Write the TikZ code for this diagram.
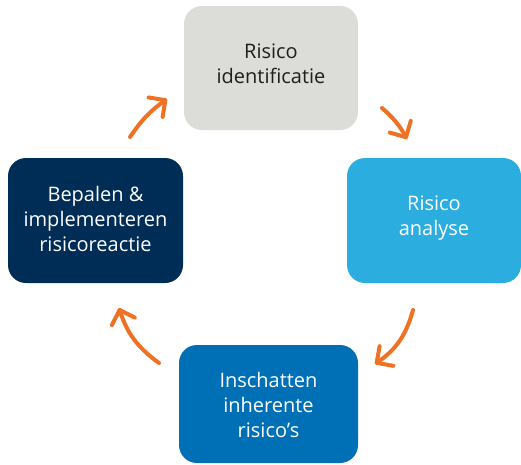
\documentclass[tikz,border=0pt]{standalone}
\usepackage{fontspec}
\setmainfont{Open Sans}
\usetikzlibrary{arrows.meta}
\definecolor{boxgray}{HTML}{DCDCD8}
\definecolor{boxsky}{HTML}{2CADE0}
\definecolor{boxblue}{HTML}{0070B6}
\definecolor{boxnavy}{HTML}{002D56}
\definecolor{cycleorange}{HTML}{EE7124}
\definecolor{darktext}{HTML}{1E1E1E}
\tikzset{
  stage/.style={rounded corners=18pt, inner sep=0pt},
  stagetext/.style={align=center, inner sep=0pt,
    font=\fontsize{20}{25}\selectfont},
  cyclearrow/.style={cycleorange, line width=4pt, line cap=round,
    -{Straight Barb[length=12pt,width=24pt,round]}}
}
\begin{document}
\begin{tikzpicture}[x=1pt,y=-1pt]
  \useasboundingbox (0,0) rectangle (521,464);
  % the four stages of the risk cycle
  \node[stage, fill=boxgray, minimum width=174pt, minimum height=124pt]
    (ident) at (271,68) {};
  \node[stagetext, text=darktext] (identtxt) at (271,64) {Risico\\identificatie};
  \node[stage, fill=boxsky, minimum width=174pt, minimum height=125pt]
    (analyse) at (434,220.5) {};
  \node[stagetext, text=white] (analysetxt) at (434,218) {Risico\\analyse};
  \node[stage, fill=boxblue, minimum width=179pt, minimum height=118pt]
    (inschat) at (268.5,404) {};
  \node[stagetext, text=white] (inschattxt) at (268.5,405) {Inschatten\\inherente\\risico’s};
  \node[stage, fill=boxnavy, minimum width=175pt, minimum height=125pt]
    (bepalen) at (95.5,220.5) {};
  \node[stagetext, text=white] (bepalentxt) at (95.5,219) {Bepalen \&\\implementeren\\risicoreactie};
  % arrow end points between the stages
  \coordinate (a1) at (382,108); \coordinate (b1) at (407,139);
  \coordinate (a2) at (413,310); \coordinate (b2) at (375,364);
  \coordinate (a3) at (159,363); \coordinate (b3) at (119,308);
  \coordinate (a4) at (130,137); \coordinate (b4) at (167,99);
  \draw[cyclearrow] (a1) to[bend left=10] (b1);
  \draw[cyclearrow] (a2) to[bend left=20] (b2);
  \draw[cyclearrow] (a3) to[bend left=18] (b3);
  \draw[cyclearrow] (a4) to[bend left=10] (b4);
\end{tikzpicture}
\end{document}
